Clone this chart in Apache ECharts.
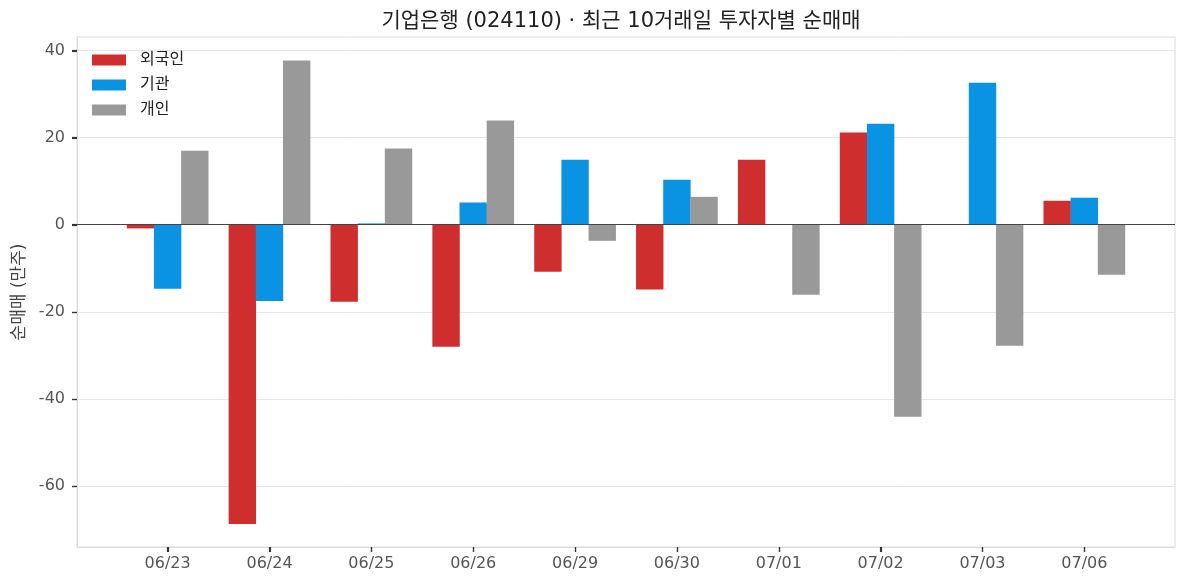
<!DOCTYPE html>
<html><head><meta charset="utf-8">
<script src="https://cdn.jsdelivr.net/npm/echarts@6/dist/echarts.min.js"></script>
<style>html,body{margin:0;padding:0;background:#fff}#c{width:1187px;height:587px}</style>
</head><body><div id="c"></div>
<script>
const categories = ['06/23','06/24','06/25','06/26','06/29','06/30','07/01','07/02','07/03','07/06'];
const foreign = [-0.85, -68.7, -17.7, -28.0, -10.8, -14.9, 14.9, 21.2, 0, 5.5];
const institution = [-14.7, -17.5, 0.3, 5.1, 14.9, 10.3, 0, 23.2, 32.6, 6.2];
const individual = [17.0, 37.7, 17.5, 23.9, -3.7, 6.4, -16.1, -44.1, -27.8, -11.5];
const seriesNames = ['외국인', '기관', '개인'];
const yTicks = [-60, -40, -20, 0, 20, 40];

const FONT = "'DejaVu Sans', 'Noto Sans CJK KR', sans-serif";
const colors = ['#cf2e2e', '#0a93e3', '#999999'];
const X_MIN = -0.89, X_MAX = 9.89, Y_MIN = -74, Y_MAX = 43.1;
const groupW = 0.8, nS = 3, bw = groupW / nS;
const idx = categories.map((_, i) => i);
function mk(vals, k) {
  return vals.map((v, i) => [i - groupW / 2 + bw * (k + 0.5), v]);
}
const chart = echarts.init(document.getElementById('c'), null, {renderer: 'canvas'});
const allSeries = [foreign, institution, individual].map((vals, k) => ({
  name: seriesNames[k], type: 'bar', data: mk(vals, k),
  barWidth: 27.4, barGap: '-100%', itemStyle: {color: colors[k]},
  emphasis: {disabled: true}, animation: false
}));
allSeries[0].markLine = {
  silent: true, symbol: 'none', label: {show: false},
  lineStyle: {color: '#444', width: 1.2, type: 'solid'},
  data: [{yAxis: 0}], animation: false
};
chart.setOption({
  animation: false,
  title: {text: '기업은행 (024110) · 최근 10거래일 투자자별 순매매', left: 616, textAlign: 'center', top: 6,
    textStyle: {fontFamily: FONT, fontSize: 21, fontWeight: 'normal', color: '#222'}},
  legend: {orient: 'vertical', left: 92, top: 52, padding: 0, itemWidth: 34, itemHeight: 11, itemGap: 9,
    icon: 'rect', data: seriesNames,
    textStyle: {fontFamily: FONT, fontSize: 16, color: '#222', padding: [0, 0, 0, 9]}},
  grid: {left: 77, right: 12, top: 37, bottom: 40, show: true, borderColor: '#dcdcdc', borderWidth: 1},
  xAxis: {type: 'value', min: X_MIN, max: X_MAX, position: 'bottom',
    axisLine: {show: true, onZero: false, lineStyle: {color: '#dcdcdc'}}, splitLine: {show: false},
    axisTick: {show: true, length: 5, lineStyle: {color: '#333', width: 1.2}, customValues: idx},
    axisLabel: {customValues: idx, formatter: v => categories[Math.round(v)] || '',
      fontFamily: FONT, fontSize: 16, color: '#555', margin: 9}},
  yAxis: {type: 'value', min: Y_MIN, max: Y_MAX, position: 'left',
    name: '순매매 (만주)', nameLocation: 'middle', nameGap: 49, nameRotate: 90,
    nameTextStyle: {fontFamily: FONT, fontSize: 17, color: '#444'},
    axisLine: {show: true, onZero: false, lineStyle: {color: '#dcdcdc'}},
    axisTick: {show: true, length: 5, lineStyle: {color: '#333', width: 1.2}, customValues: yTicks},
    axisLabel: {customValues: yTicks, fontFamily: FONT, fontSize: 16, color: '#555', margin: 12},
    splitLine: {show: true, lineStyle: {color: '#e6e6e6', width: 1}}},
  series: allSeries
});
// tick marks outside the frame, placed through the chart's own scales
const tickEls = [];
idx.forEach(i => {
  const p = chart.convertToPixel({xAxisIndex: 0, yAxisIndex: 0}, [i, Y_MIN]);
  if (!p) return;
  const x = Math.round(p[0]) + 0.5;
  tickEls.push({type: 'line', silent: true, z: 100,
    shape: {x1: x, y1: p[1], x2: x, y2: p[1] + 5}, style: {stroke: '#333', lineWidth: 1.2}});
});
yTicks.forEach(v => {
  const p = chart.convertToPixel({xAxisIndex: 0, yAxisIndex: 0}, [X_MIN, v]);
  if (!p) return;
  const y = Math.round(p[1]) + 0.5;
  tickEls.push({type: 'line', silent: true, z: 100,
    shape: {x1: p[0] - 5, y1: y, x2: p[0], y2: y}, style: {stroke: '#333', lineWidth: 1.2}});
});
chart.setOption({graphic: {elements: tickEls}});
</script></body></html>
